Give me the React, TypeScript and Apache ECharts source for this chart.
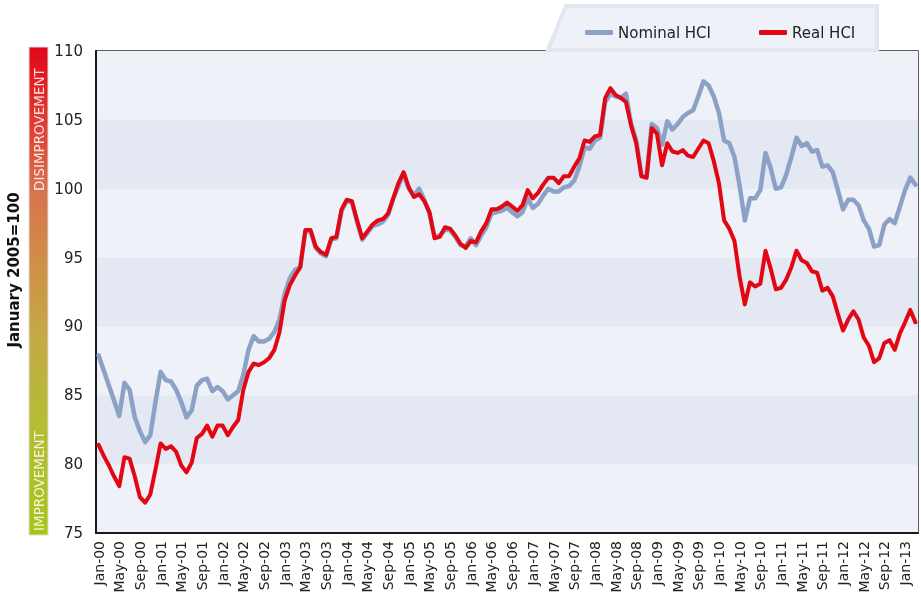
import React, { useEffect, useRef } from "react";
import * as echarts from "echarts";

const MONTHS = ["Jan", "Feb", "Mar", "Apr", "May", "Jun", "Jul", "Aug", "Sep", "Oct", "Nov", "Dec"];
const START_YEAR = 2000;
const MONTH_COUNT = 159;

const nominalHCI = [
  87.9, 86.8, 85.7, 84.6, 83.5, 85.9, 85.4, 83.4, 82.4, 81.6, 82.1, 84.5,
  86.7, 86.1, 86.0, 85.4, 84.5, 83.4, 83.9, 85.7, 86.1, 86.2, 85.3, 85.6,
  85.3, 84.7, 85.0, 85.3, 86.5, 88.3, 89.3, 88.9, 88.9, 89.1, 89.6, 90.5,
  92.4, 93.5, 94.1, 94.3, 96.9, 96.9, 95.7, 95.3, 95.1, 96.3, 96.4, 98.4,
  99.1, 99.0, 97.6, 96.3, 96.8, 97.3, 97.4, 97.6, 98.1, 99.3, 100.2, 101.1,
  100.0, 99.5, 100.0, 99.2, 98.2, 96.5, 96.6, 97.0, 97.0, 96.5, 95.9, 95.8,
  96.4, 95.9, 96.6, 97.2, 98.2, 98.3, 98.4, 98.6, 98.3, 98.0, 98.3, 99.3,
  98.6, 98.9, 99.5, 100.0, 99.8, 99.8, 100.1, 100.2, 100.6, 101.6, 103.0, 102.9,
  103.5, 103.7, 106.3, 106.9, 106.7, 106.6, 106.9, 104.7, 103.5, 101.0, 100.9, 104.7,
  104.4, 103.2, 104.9, 104.3, 104.7, 105.2, 105.5, 105.7, 106.7, 107.8, 107.5, 106.7,
  105.5, 103.5, 103.3, 102.3, 100.2, 97.7, 99.3, 99.3, 99.9, 102.6, 101.5, 100.0,
  100.1, 101.0, 102.3, 103.7, 103.1, 103.3, 102.7, 102.8, 101.6, 101.7, 101.2, 99.9,
  98.5, 99.2, 99.2, 98.8, 97.7, 97.1, 95.8, 95.9, 97.4, 97.8, 97.5, 98.7,
  99.9, 100.8, 100.3,
];

const realHCI = [
  81.4, 80.6, 79.9, 79.1, 78.4, 80.5, 80.4, 79.1, 77.6, 77.2, 77.8, 79.6,
  81.5, 81.1, 81.3, 80.9, 79.9, 79.4, 80.1, 81.9, 82.2, 82.8, 82.0, 82.8,
  82.8, 82.1, 82.7, 83.2, 85.4, 86.7, 87.3, 87.2, 87.4, 87.7, 88.3, 89.6,
  91.9, 93.0, 93.7, 94.3, 97.0, 97.0, 95.8, 95.4, 95.2, 96.4, 96.5, 98.5,
  99.2, 99.1, 97.7, 96.4, 96.9, 97.4, 97.7, 97.8, 98.2, 99.3, 100.4, 101.2,
  100.1, 99.4, 99.6, 99.1, 98.3, 96.4, 96.5, 97.2, 97.1, 96.6, 96.0, 95.7,
  96.2, 96.1, 96.9, 97.5, 98.5, 98.5, 98.7, 99.0, 98.7, 98.4, 98.8, 99.9,
  99.3, 99.7, 100.3, 100.8, 100.8, 100.4, 100.9, 100.9, 101.6, 102.2, 103.5, 103.4,
  103.8, 103.9, 106.6, 107.3, 106.8, 106.6, 106.3, 104.6, 103.3, 100.9, 100.8, 104.4,
  104.0, 101.7, 103.3, 102.7, 102.6, 102.8, 102.4, 102.3, 102.9, 103.5, 103.3, 102.0,
  100.4, 97.7, 97.1, 96.2, 93.6, 91.6, 93.2, 92.9, 93.1, 95.5, 94.2, 92.7,
  92.8, 93.4, 94.3, 95.5, 94.8, 94.6, 94.0, 93.9, 92.6, 92.8, 92.2, 90.9,
  89.7, 90.5, 91.1, 90.5, 89.2, 88.6, 87.4, 87.7, 88.8, 89.0, 88.3, 89.5,
  90.3, 91.2, 90.3,
];

const Y_MIN = 75;
const Y_MAX = 110;
const Y_STEP = 5;

const categories: string[] = [];
for (let i = 0; i < MONTH_COUNT; i++) {
  const y = (START_YEAR + Math.floor(i / 12)) % 100;
  categories.push(`${MONTHS[i % 12]}-${String(y).padStart(2, "0")}`);
}

const FONT = "'DejaVu Sans', sans-serif";

export default function App() {
  const ref = useRef<HTMLDivElement>(null);
  useEffect(() => {
    if (!ref.current) return;
    const chart = echarts.init(ref.current, null, { renderer: "svg" });
    chart.setOption({
      animation: false,
      textStyle: { fontFamily: FONT },
      grid: {
        left: 96,
        top: 51,
        right: 3,
        bottom: 64,
        show: true,
        backgroundColor: "#eef1f8",
        borderColor: "#2a2a2a",
        borderWidth: 1.5,
        z: 0,
      },
      legend: [
        {
          data: ["Nominal HCI"],
          left: 580,
          top: 20,
          itemWidth: 28,
          itemHeight: 5,
          icon: "roundRect",
          textStyle: { fontSize: 15, color: "#222", fontFamily: FONT },
        },
        {
          data: ["Real HCI"],
          left: 754,
          top: 20,
          itemWidth: 28,
          itemHeight: 5,
          icon: "roundRect",
          textStyle: { fontSize: 15, color: "#222", fontFamily: FONT },
        },
      ],
      xAxis: {
        type: "category",
        data: categories,
        boundaryGap: true,
        axisLine: { show: true, lineStyle: { color: "#1a1a1a", width: 2 } },
        axisTick: { show: false },
        axisLabel: {
          interval: 3,
          rotate: 90,
          margin: 8,
          fontSize: 14,
          color: "#222",
          fontFamily: FONT,
        },
        splitLine: { show: false },
      },
      yAxis: {
        type: "value",
        min: Y_MIN,
        max: Y_MAX,
        interval: Y_STEP,
        axisLine: { show: true, lineStyle: { color: "#1a1a1a", width: 2 } },
        axisTick: { show: false },
        axisLabel: { fontSize: 15, color: "#222", margin: 13, fontFamily: FONT },
        splitLine: { show: false },
        splitArea: { show: true, areaStyle: { color: ["#eef1f8", "#e3e8f2"] } },
      },
      graphic: [
        {
          type: "polygon",
          z: 1,
          shape: { points: [[566, 6], [877, 6], [877, 50], [548, 50]] },
          style: { fill: "#eef1f8", stroke: "#e2e6f1", lineWidth: 4 },
        },
        {
          type: "rect",
          z: 1,
          shape: { x: 29, y: 47, width: 19, height: 488 },
          style: {
            stroke: "#dcdde3",
            lineWidth: 1,
            fill: new echarts.graphic.LinearGradient(0, 0, 0, 1, [
              { offset: 0, color: "#e2061a" },
              { offset: 0.15, color: "#e03a30" },
              { offset: 0.3, color: "#d7744f" },
              { offset: 0.45, color: "#cf9048" },
              { offset: 0.6, color: "#c3ab44" },
              { offset: 0.78, color: "#b5bd33" },
              { offset: 1, color: "#a8c517" },
            ]),
          },
        },
        {
          type: "text",
          z: 2,
          x: 39,
          y: 191,
          rotation: Math.PI / 2,
          style: {
            text: "DISIMPROVEMENT",
            fill: "rgba(255,255,255,0.85)",
            font: `13.5px ${FONT}`,
            textAlign: "left",
            textVerticalAlign: "middle",
          },
        },
        {
          type: "text",
          z: 2,
          x: 39,
          y: 531,
          rotation: Math.PI / 2,
          style: {
            text: "IMPROVEMENT",
            fill: "rgba(255,255,255,0.85)",
            font: `13.5px ${FONT}`,
            textAlign: "left",
            textVerticalAlign: "middle",
          },
        },
        {
          type: "text",
          z: 2,
          x: 14,
          y: 270,
          rotation: Math.PI / 2,
          style: {
            text: "January 2005=100",
            fill: "#111",
            font: `bold 15px ${FONT}`,
            textAlign: "center",
            textVerticalAlign: "middle",
          },
        },
      ],
      series: [
        {
          name: "Nominal HCI",
          type: "line",
          data: nominalHCI,
          showSymbol: false,
          symbol: "none",
          color: "#8ba2c6",
          lineStyle: { width: 4.5, color: "#8ba2c6", cap: "round", join: "round" },
          z: 3,
        },
        {
          name: "Real HCI",
          type: "line",
          data: realHCI,
          showSymbol: false,
          symbol: "none",
          color: "#e30613",
          lineStyle: { width: 4, color: "#e30613", cap: "round", join: "round" },
          z: 4,
        },
      ],
    });
    return () => chart.dispose();
  }, []);
  return (
    <div
      ref={ref}
      style={{ position: "fixed", left: 0, top: 0, width: 921, height: 597 }}
    />
  );
}
